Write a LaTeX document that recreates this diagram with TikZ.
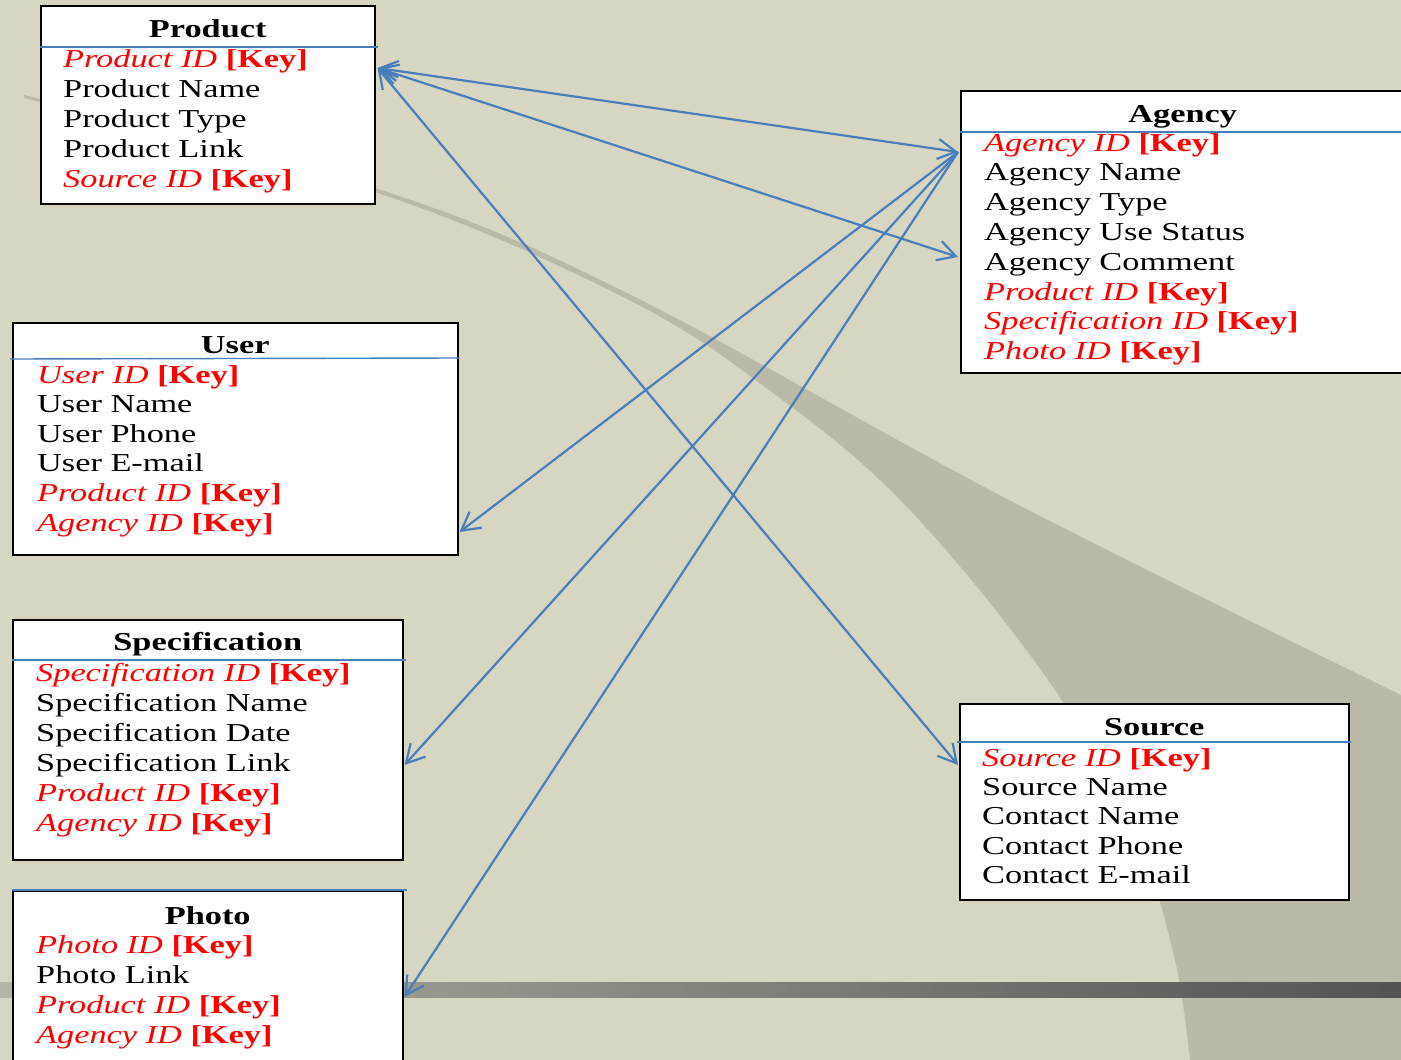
\documentclass[tikz,border=0pt]{standalone}
\usepackage{fontspec}
\setmainfont{Liberation Serif}[FakeStretch=1.33]
\usetikzlibrary{calc, arrows.meta}

\definecolor{slide}{RGB}{215,214,194}
\definecolor{swoosh}{RGB}{187,186,169}
\definecolor{linkblue}{RGB}{74,126,187}
\definecolor{keyred}{RGB}{255,0,0}
\definecolor{barleft}{RGB}{182,180,166}
\definecolor{barright}{RGB}{84,83,83}

\newcommand{\erfont}{\fontsize{25.8}{29.8}\selectfont}
\newcommand{\pkey}[1]{\textcolor{keyred}{\textit{#1} \textbf{[Key]}}}

\tikzset{
  entity/.style={draw=black, line width=1.5pt, fill=white, anchor=north west, inner sep=0pt},
  entitytitle/.style={anchor=base, inner sep=0pt, font=\erfont\bfseries},
  attr/.style={anchor=base west, inner sep=0pt, font=\erfont},
  titlerule/.style={draw=linkblue, line width=1.4pt},
  barb/.tip={Straight Barb[length=18pt,width=20pt]},
  link/.style={draw=linkblue, line width=2.2pt, -barb},
  twolink/.style={link, barb-barb},
}

\begin{document}
\begin{tikzpicture}[x=1pt, y=-1pt]
\useasboundingbox (0,0) rectangle (1401,1060);
\clip (0,0) rectangle (1401,1060);

% slide background
\fill[slide] (0,0) rectangle (1401,1060);
\fill[swoosh] plot[smooth, tension=0.6] coordinates {(24,95) (375,188) (625,292) (1009,500) (1401,695)}
  -- (1401,1060) -- (1190,1060)
  -- plot[smooth, tension=0.6] coordinates {(1190,1060) (1175,960) (1140,850) (1055,690) (907,507) (769,390) (625,298) (375,192) (24,98)}
  -- cycle;
\shade[left color=barleft, right color=barright] (0,982) rectangle (1401,997);

% Product
\node[entity, minimum width=334pt, minimum height=198pt] (product) at (40,5) {};
\node[entitytitle] (product-title) at ($(product.north)+(0,32)$) {Product};
\draw[titlerule] ($(product.north west)+(0,42)$) -- ($(product.north east)+(2,42)$);
\foreach \row [count=\i] in {\pkey{Product ID}, Product Name, Product Type, Product Link, \pkey{Source ID}}
  \node[attr] (product-r\i) at ($(product.north west)+(23,{62+30.2*(\i-1)})$) {\row};

% Agency
\node[entity, minimum width=444pt, minimum height=282pt] (agency) at (960,90) {};
\node[entitytitle] (agency-title) at ($(agency.north)+(0,32)$) {Agency};
\draw[titlerule] ($(agency.north west)+(0,42)$) -- ($(agency.north east)+(0,42)$);
\foreach \row [count=\i] in {\pkey{Agency ID}, Agency Name, Agency Type, Agency Use Status, Agency Comment, \pkey{Product ID}, \pkey{Specification ID}, \pkey{Photo ID}}
  \node[attr] (agency-r\i) at ($(agency.north west)+(24,{61+29.8*(\i-1)})$) {\row};

% User
\node[entity, minimum width=445pt, minimum height=232pt] (user) at (12,322) {};
\node[entitytitle] (user-title) at ($(user.north)+(0,31)$) {User};
\draw[titlerule] ($(user.north west)+(-2,37)$) -- ($(user.north east)+(1,36)$);
\foreach \row [count=\i] in {\pkey{User ID}, User Name, User Phone, User E-mail, \pkey{Product ID}, \pkey{Agency ID}}
  \node[attr] (user-r\i) at ($(user.north west)+(25,{61+29.6*(\i-1)})$) {\row};

% Specification
\node[entity, minimum width=390pt, minimum height=240pt] (spec) at (12,619) {};
\node[entitytitle] (spec-title) at ($(spec.north)+(0,31)$) {Specification};
\draw[titlerule] ($(spec.north west)+(0,41)$) -- ($(spec.north east)+(2,41)$);
\foreach \row [count=\i] in {\pkey{Specification ID}, Specification Name, Specification Date, Specification Link, \pkey{Product ID}, \pkey{Agency ID}}
  \node[attr] (spec-r\i) at ($(spec.north west)+(24,{62+30*(\i-1)})$) {\row};

% Photo
\node[entity, minimum width=390pt, minimum height=200pt] (photo) at (12,890) {};
\draw[titlerule] (photo.north west) -- ($(photo.north east)+(3,0)$);
\node[entitytitle] (photo-title) at ($(photo.north)+(0,34)$) {Photo};
\foreach \row [count=\i] in {\pkey{Photo ID}, Photo Link, \pkey{Product ID}, \pkey{Agency ID}}
  \node[attr] (photo-r\i) at ($(photo.north west)+(24,{63+30*(\i-1)})$) {\row};

% Source
\node[entity, minimum width=389pt, minimum height=196pt] (source) at (959,703) {};
\node[entitytitle] (source-title) at ($(source.north)+(0,32)$) {Source};
\draw[titlerule] ($(source.north west)+(-2,39)$) -- ($(source.north east)+(1,39)$);
\foreach \row [count=\i] in {\pkey{Source ID}, Source Name, Contact Name, Contact Phone, Contact E-mail}
  \node[attr] (source-r\i) at ($(source.north west)+(23,{63+29.4*(\i-1)})$) {\row};

% ports
\coordinate (product-port) at ($(product.north east)+(2,63)$);
\coordinate (agency-in) at ($(agency.north west)+(-2,62)$);
\coordinate (agency-mid) at ($(agency.north west)+(-2,167)$);
\coordinate (source-port) at ($(source.north west)+(-1,62)$);
\coordinate (user-port) at ($(user.north east)+(1,210)$);
\coordinate (spec-port) at ($(spec.north east)+(1,146)$);
\coordinate (photo-port) at ($(photo.north east)+(1,107)$);

% links
\draw[twolink] (product-port) -- (agency-in);
\draw[twolink] (product-port) -- (agency-mid);
\draw[twolink] (product-port) -- (source-port);
\draw[link] (agency-in) -- (user-port);
\draw[link] (agency-in) -- (spec-port);
\draw[link] (agency-in) -- (photo-port);
\end{tikzpicture}
\end{document}
